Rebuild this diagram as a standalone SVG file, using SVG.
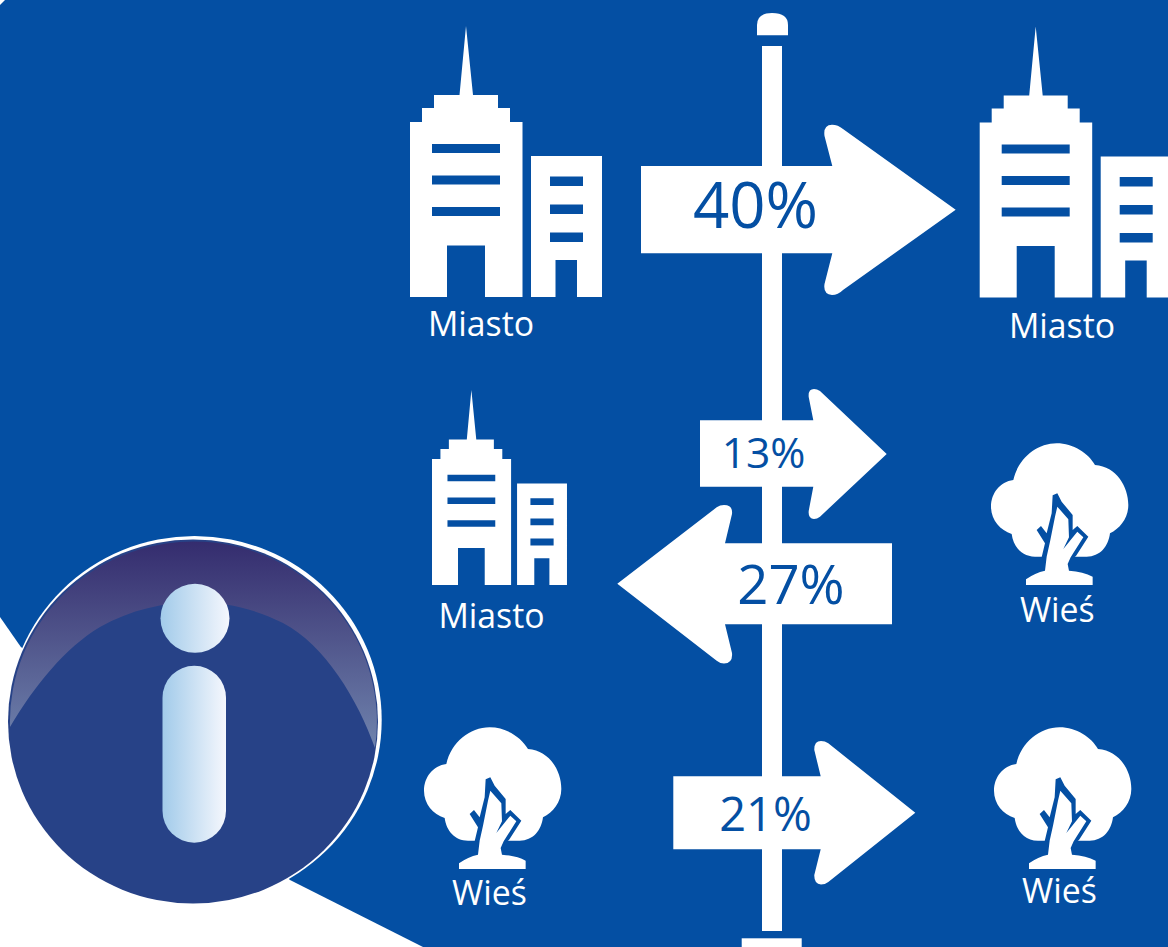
<svg xmlns="http://www.w3.org/2000/svg" xmlns:xlink="http://www.w3.org/1999/xlink" width="1168" height="947" viewBox="0 0 1168 947">
<style>
.w{fill:#fff}
.b{fill:#044fa3}
text{font-family:"Open Sans","Noto Sans","Liberation Sans",sans-serif;text-anchor:middle}
.lbl{fill:#fff;font-size:33.800px}
.pct{fill:#044fa3}
</style>
<defs>
<linearGradient id="shine" gradientUnits="userSpaceOnUse" x1="0" y1="541" x2="0" y2="748"><stop offset="0" stop-color="#342c6e"/><stop offset="0.3" stop-color="#464680"/><stop offset="1" stop-color="#6f83ad"/></linearGradient>
<linearGradient id="ig" x1="0" y1="0" x2="1" y2="0"><stop offset="0" stop-color="#a2cbea"/><stop offset="1" stop-color="#f5f7fd"/></linearGradient>
<path id="bld" fill-rule="evenodd" d="M410 297V122H422V108H434V95H459.500L466 26L473 95H498V108H510V122H522.500V297H485V245.500H447V297ZM432 144V153H500V144ZM432 175.500V184.500H500V175.500ZM432 207V216H500V207ZM531 297V156H602V297H577V260H555.500V297ZM550 176.500V186H583V176.500ZM550 204.500V214H583V204.500ZM550 232.500V242H583V232.500Z" fill="#fff"/>
<g id="tree">
<path class="w" d="M225 380C185 380 160 350 155 312C120 300 93 270 93 230C93 190 120 155 160 150C175 85 230 40 290 40C340 40 385 70 405 105C470 110 505 170 505 225C505 265 480 295 450 310C445 350 420 380 380 380Z"/>
<path class="b" d="M245 382L255 340L230 300L243 288L260 310L275 250L278 196L292 190L305 215L338 255L338 300L352 288L385 320L348 378L340 384Z"/>
<path class="w" d="M292 230L325 268L327 322L310 357L352 305L370 322L332 382L323 402L327 422Q370 425 398 440V465H198V448Q225 428 255 422L260 380L270 335L285 260Z"/>
</g>
</defs>
<rect width="1168" height="947" fill="#fff"/>
<path id="background" class="b" d="M5 0H1168V947H423L290 880L20.700 646.700L0 617V5Z"/>

<g id="pole">
<path class="w" d="M757 35.300V25Q757 13 772 13Q788 13 788 25V35.300Z"/>
<rect class="w" x="762" y="46" width="20" height="885"/>
<rect class="w" x="741.700" y="938.300" width="60" height="9"/>
</g>

<g id="connectors">
<path class="w" d="M641 166H832.300L824.500 136Q823 125 832 124.700Q838 124.700 843 129L955.700 209.700L843 290Q838 295 832 295Q823 294 824.500 284L832.300 253.300H641Z"/>
<path class="w" d="M700 420.300H813.300L808.700 397Q808 389 814 389Q817 389 820 391L886.700 454L820 516.700Q817 519 814 519Q808 519 808.700 511L813.300 486.700H700Z"/>
<path class="w" d="M892 543.300H725L732 514Q733 505 724 505Q720 505 716.700 507.300L617.300 583.700L716.700 660.700Q720 663.500 724 663.500Q733 663 732 653L725 624.300H892Z"/>
<path class="w" d="M673.300 776.300H820.700L814.300 750Q814 741 821 741Q825 741 828.300 743.300L915.300 812.700L828.300 882Q825 884.500 821 884.500Q814 884 814.300 875L820.700 849.300H673.300Z"/>
</g>

<g id="arrow-labels">
<text class="pct" x="755.500" y="228.300" font-size="63.500">40%</text>
<text class="pct" x="763.500" y="468.300" font-size="42.500">13%</text>
<text class="pct" x="791" y="604" font-size="54.500">27%</text>
<text class="pct" x="765.500" y="831" font-size="47">21%</text>
</g>

<g id="node-miasto-a"><use xlink:href="#bld" href="#bld"/><text class="lbl" x="481" y="336">Miasto</text></g>
<g id="node-miasto-b"><use xlink:href="#bld" href="#bld" transform="translate(569.700 0.500)"/><text class="lbl" x="1062" y="338">Miasto</text></g>
<g id="node-miasto-c"><use xlink:href="#bld" href="#bld" transform="translate(432 585) scale(0.703 0.72) translate(-410 -297)"/><text class="lbl" x="491.500" y="627.500">Miasto</text></g>
<g id="node-wies-a"><use xlink:href="#tree" href="#tree" transform="translate(960 430) scale(0.3333)"/><text class="lbl" x="1057.300" y="621.700">Wieś</text></g>
<g id="node-wies-b"><use xlink:href="#tree" href="#tree" transform="translate(393 714) scale(0.3333)"/><text class="lbl" x="489.500" y="905">Wieś</text></g>
<g id="node-wies-c"><use xlink:href="#tree" href="#tree" transform="translate(963 714) scale(0.3333)"/><text class="lbl" x="1059.500" y="903">Wieś</text></g>

<g id="info">
<ellipse class="w" cx="194.500" cy="720" rx="187.200" ry="184"/>
<ellipse cx="193" cy="721.500" rx="185" ry="182" fill="#274287"/>
<path fill="url(#shine)" d="M10 727A183.500 180.500 0 1 1 375 748C358 700 325 645 283 623C255 609 225 602 195 602C165 602 130 610 100 627C65 648 35 685 10 727Z"/>
<circle cx="195" cy="618.300" r="34.500" fill="url(#ig)"/>
<rect x="162.500" y="665.700" width="63.500" height="177" rx="32" fill="url(#ig)"/>
</g>
</svg>
